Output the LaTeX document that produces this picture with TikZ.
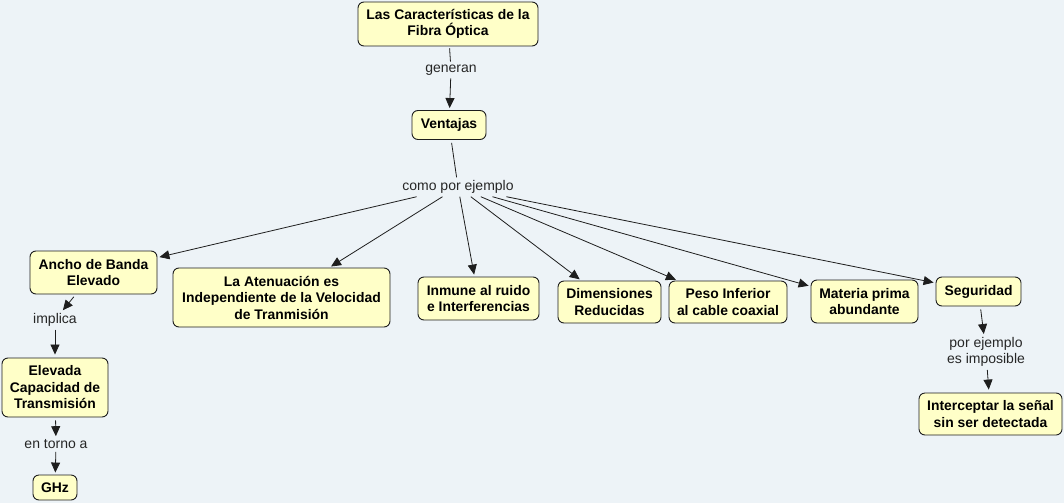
\documentclass[tikz,border=0pt]{standalone}
\usepackage{fontspec}
\setmainfont{Liberation Sans}
\usetikzlibrary{arrows.meta}
\definecolor{bgc}{RGB}{237,243,247}
\definecolor{boxc}{RGB}{255,255,200}
\definecolor{edgec}{RGB}{30,30,30}
\tikzset{
  concept/.style={draw=edgec, fill=boxc, rounded corners=6pt, line width=0.9pt,
    align=center, inner sep=2pt, font=\bfseries\fontsize{13.9}{16.5}\selectfont},
  lbl/.style={align=center, inner sep=3pt, font=\fontsize{14}{16.5}\selectfont, text=black!85},
  conn/.style={draw=edgec, line width=0.8pt},
  arr/.style={conn, -{Triangle[length=10pt,width=9pt]}},
}
\begin{document}
\begin{tikzpicture}[x=1pt,y=-1pt]
\fill[bgc] (0,0) rectangle (1064,503);
\useasboundingbox (0,0) rectangle (1064,503);

\node[concept, minimum width=180pt, minimum height=44pt] (top) at (448,24) {Las Características de la\\Fibra Óptica};
\node[concept, minimum width=74pt, minimum height=29pt] (vent) at (449,125) {Ventajas};
\node[concept, minimum width=127pt, minimum height=43pt] (ancho) at (93.5,272.5) {Ancho de Banda\\Elevado};
\node[concept, minimum width=217pt, minimum height=59pt] (aten) at (281.5,297.5) {La Atenuación es\\Independiente de la Velocidad\\de Tranmisión};
\node[concept, minimum width=121pt, minimum height=43pt] (inm) at (478.5,298.5) {Inmune al ruido\\e Interferencias};
\node[concept, minimum width=103pt, minimum height=42pt] (dim) at (609.5,302) {Dimensiones\\Reducidas};
\node[concept, minimum width=118pt, minimum height=42pt] (peso) at (728,302) {Peso Inferior\\al cable coaxial};
\node[concept, minimum width=107pt, minimum height=43pt] (mat) at (864.5,301.5) {Materia prima\\abundante};
\node[concept, minimum width=85pt, minimum height=29pt] (seg) at (978.5,291.5) {Seguridad};
\node[concept, minimum width=143pt, minimum height=42pt] (inter) at (990.5,414) {Interceptar la señal\\sin ser detectada};
\node[concept, minimum width=106pt, minimum height=59pt] (elev) at (55,387.5) {Elevada\\Capacidad de\\Transmisión};
\node[concept, minimum width=44pt, minimum height=25pt] (ghz) at (55,487.5) {GHz};

\node[lbl] (gen) at (451,70) {generan};
\node[lbl] (como) at (458,187) {como por ejemplo};
\node[lbl] (impl) at (55,320) {implica};
\node[lbl] (torno) at (56,444) {en torno a};
\node[lbl] (porej) at (986,352) {por ejemplo\\es imposible};

\draw[conn, shorten <=2pt] (top) -- (gen);
\draw[arr, shorten >=2pt] (gen) -- (vent);
\draw[conn, shorten <=3pt] (vent) -- (como);
\foreach \t in {ancho,aten,inm,dim,peso,mat,seg}
  \draw[arr, shorten >=2pt] (como) -- (\t);
\draw[arr, shorten <=3pt] (ancho) -- (impl);
\draw[arr, shorten >=3pt] (impl) -- (elev);
\draw[arr, shorten <=3pt] (elev) -- (torno);
\draw[arr, shorten >=2pt] (torno) -- (ghz);
\draw[arr, shorten <=3pt] (seg) -- (porej);
\draw[arr, shorten >=3pt] (porej) -- (inter);
\end{tikzpicture}
\end{document}
